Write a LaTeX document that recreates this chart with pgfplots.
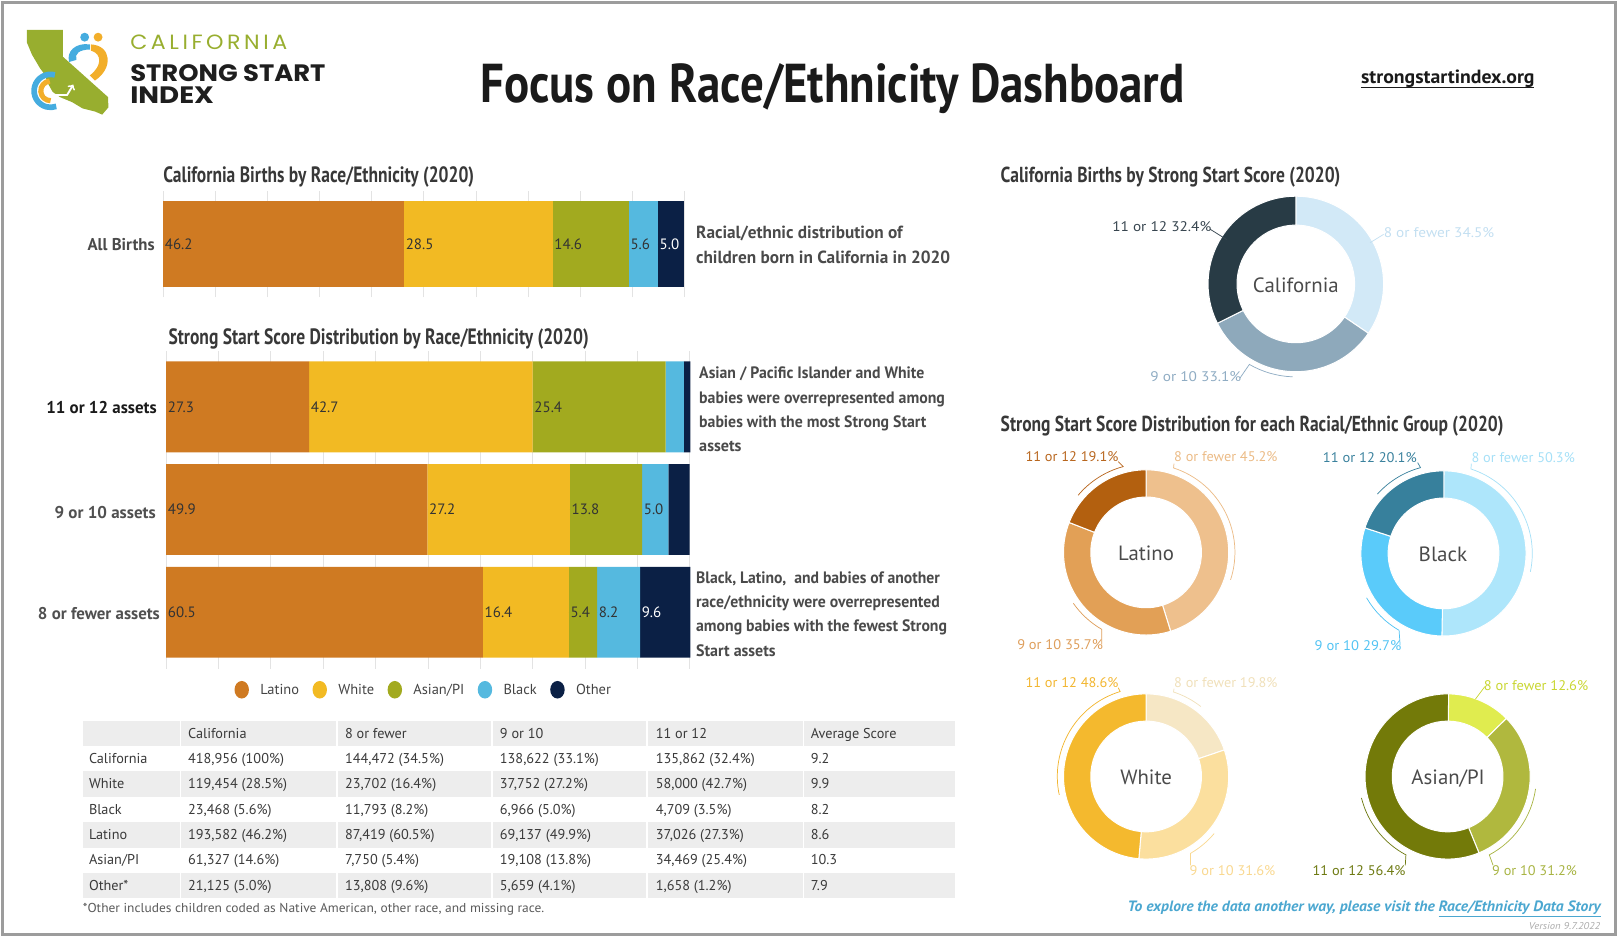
\documentclass[border=0pt]{standalone}
\usepackage{pgfplots}
\pgfplotsset{compat=1.18}
\usepackage{graphicx}
\usepackage{fontspec}
\setmainfont{PT Sans}
\newfontfamily\logofont{Poppins}
\newfontfamily\logofontsp{Poppins}[LetterSpace=16]

\definecolor{cLat}{HTML}{CF7A22}
\definecolor{cWhi}{HTML}{F2BA23}
\definecolor{cAsi}{HTML}{A2AA1F}
\definecolor{cBla}{HTML}{55B9DF}
\definecolor{cOth}{HTML}{0B2045}
\definecolor{gridc}{HTML}{E3E3E3}
\definecolor{tgray}{HTML}{EDEDED}
\definecolor{hdr}{HTML}{383838}
\definecolor{ann}{HTML}{333333}
\definecolor{annb}{HTML}{4A4A4A}
\definecolor{rowg}{HTML}{505050}
\definecolor{titc}{HTML}{1A1A1A}
\definecolor{logoK}{HTML}{1E1E1E}
\definecolor{logoG}{HTML}{98AE2F}
\definecolor{logoB}{HTML}{45ACDF}
\definecolor{logoO}{HTML}{F2AE2A}
\definecolor{ttxt}{HTML}{3A3A3A}
\definecolor{fnc}{HTML}{5A5A5A}
\definecolor{legtxt}{HTML}{444444}
\definecolor{ctr}{HTML}{4A4A4A}
\definecolor{foot}{HTML}{4BA7D0}
\definecolor{vers}{HTML}{AAAAAA}
\definecolor{framec}{HTML}{9C9C9C}
\definecolor{caA}{HTML}{D2E9F7}\definecolor{caB}{HTML}{8EA9BB}\definecolor{caC}{HTML}{283B45}
\definecolor{caLA}{HTML}{C3DFF1}\definecolor{caLB}{HTML}{8FACC3}\definecolor{caLC}{HTML}{37454F}
\definecolor{laA}{HTML}{EEC08D}\definecolor{laB}{HTML}{E2A056}\definecolor{laC}{HTML}{B3600F}
\definecolor{laLA}{HTML}{EBBB86}\definecolor{laLB}{HTML}{DE9E5B}\definecolor{laLC}{HTML}{B8661E}
\definecolor{blA}{HTML}{AEE6FB}\definecolor{blB}{HTML}{5ACBFA}\definecolor{blC}{HTML}{37809C}
\definecolor{blLA}{HTML}{A6E0F7}\definecolor{blLB}{HTML}{52C3F3}\definecolor{blLC}{HTML}{3A819D}
\definecolor{whA}{HTML}{F6E7C5}\definecolor{whB}{HTML}{FBDF9E}\definecolor{whC}{HTML}{F4B92E}
\definecolor{whLA}{HTML}{F0E0BA}\definecolor{whLB}{HTML}{F9D890}\definecolor{whLC}{HTML}{F2B631}
\definecolor{asA}{HTML}{E0EC4F}\definecolor{asB}{HTML}{B0B83E}\definecolor{asC}{HTML}{737A09}
\definecolor{asLA}{HTML}{C9D632}\definecolor{asLB}{HTML}{A8B443}\definecolor{asLC}{HTML}{6E7A12}

\newcommand\fit[3]{\resizebox{#1pt}{\height}{\fontsize{#2}{#2}\selectfont #3}}
\newcommand\tx[6]{\node[anchor=#1,inner sep=0pt,text=#2] at (#3) {\fit{#4}{#5}{#6}};}
\newcommand\lead[7]{\draw[#1, line width=0.7pt] (#7) -- ([shift={(#2,#3)}]#5:#4pt) arc[start angle=#5, end angle=#6, radius=#4pt];}
\tikzset{tcell/.style={anchor=base west, inner sep=0pt, text=ttxt, font=\fontsize{13.8}{13.8}\selectfont}}
\newcommand\trow[7]{%
 \node[tcell] at (86,#1) {#2};
 \node[tcell] at (182,#1) {#3};
 \node[tcell] at (334,#1) {#4};
 \node[tcell] at (484,#1) {#5};
 \node[tcell] at (635,#1) {#6};
 \node[tcell] at (785,#1) {#7};}

\pgfplotsset{
  dotlegend/.style={legend image code/.code={\fill[##1] (0pt,0pt) ellipse[x radius=7pt, y radius=8.5pt];}},
  barbase/.style={scale only axis, xmin=0, xmax=100, xbar stacked, xtick={0,10,...,100}, xticklabels={}, ytick=\empty,
    xmajorgrids, major grid style={draw=gridc, line width=0.9pt}, axis line style={draw=none}, major tick length=0pt, clip=false},
  lblbase/.style={scale only axis, xmin=0, xmax=100, hide axis, clip=false},
  lbl/.style={only marks, mark=*, mark size=0pt, mark options={draw=none,fill=none}, nodes near coords, point meta=explicit symbolic,
    every node near coord/.append style={anchor=west, inner sep=1.5pt, font=\fontsize{14.5}{14.5}\selectfont, text=#1}},
}

% cx cy R v1 v2 v3 c1 c2 c3
\newcommand\donut[9]{%
  \pgfmathsetmacro\dA{90}%
  \pgfmathsetmacro\dB{90-3.6*#4}%
  \pgfmathsetmacro\dC{\dB-3.6*#5}%
  \pgfmathsetmacro\dD{\dC-3.6*#6}%
  \pgfmathsetmacro\dR{#3}%
  \pgfmathsetmacro\dr{0.67*#3}%
  \pgfmathsetmacro\dW{2*#3}%
  \begin{axis}[at={(#1pt,-#2pt)}, anchor=center, scale only axis, width=\dW pt, height=\dW pt,
     xmin=-1, xmax=1, ymin=-1, ymax=1, hide axis, clip=false]
   \begin{scope}[shift={(axis cs:0,0)}]
    \draw[fill=#7, draw=white, line width=1pt] (\dA:\dR pt) arc[start angle=\dA, end angle=\dB, radius=\dR pt] -- (\dB:\dr pt) arc[start angle=\dB, end angle=\dA, radius=\dr pt] -- cycle;
    \draw[fill=#8, draw=white, line width=1pt] (\dB:\dR pt) arc[start angle=\dB, end angle=\dC, radius=\dR pt] -- (\dC:\dr pt) arc[start angle=\dC, end angle=\dB, radius=\dr pt] -- cycle;
    \draw[fill=#9, draw=white, line width=1pt] (\dC:\dR pt) arc[start angle=\dC, end angle=\dD, radius=\dR pt] -- (\dD:\dr pt) arc[start angle=\dD, end angle=\dC, radius=\dr pt] -- cycle;
   \end{scope}
  \end{axis}}

\begin{document}
\begin{tikzpicture}
% ================= bar chart 1
\begin{axis}[barbase, at={(158pt,-185pt)}, anchor=north west, width=505pt, height=103pt, ymin=-0.5, ymax=0.5, bar width=83pt]
\addplot[fill=cLat, draw=none] coordinates {(46.2,0)};
\addplot[fill=cWhi, draw=none] coordinates {(28.5,0)};
\addplot[fill=cAsi, draw=none] coordinates {(14.6,0)};
\addplot[fill=cBla, draw=none] coordinates {(5.6,0)};
\addplot[fill=cOth, draw=none] coordinates {(5.0,0)};
\end{axis}
\begin{axis}[lblbase, at={(158pt,-185pt)}, anchor=north west, width=505pt, height=103pt, ymin=-0.5, ymax=0.5]
\addplot[lbl=ann] table[meta=lab] {
x y lab
0 0 46.2
46.2 0 28.5
74.7 0 14.6
89.3 0 5.6
};
\addplot[lbl=white] table[meta=lab] {
x y lab
94.9 0 5.0
};
\end{axis}
% ================= bar chart 2
\begin{axis}[barbase, at={(161pt,-340pt)}, anchor=north west, width=507pt, height=308pt, ymin=-0.553, ymax=2.543, bar width=88pt,
  every axis plot post/.append style={dotlegend},
  legend columns=5, legend cell align=left,
  legend style={at={(0.490,-0.065)}, anchor=center, draw=none, fill=none, inner sep=0pt,
    nodes={inner sep=0pt, text=legtxt, font=\fontsize{14}{14}\selectfont},
    /tikz/every odd column/.append style={column sep=11pt},
    /tikz/every even column/.append style={column sep=13pt}}]
\addplot[fill=cLat, draw=none] coordinates {(60.5,0) (49.9,1) (27.3,2)};
\addplot[fill=cWhi, draw=none] coordinates {(16.4,0) (27.2,1) (42.7,2)};
\addplot[fill=cAsi, draw=none] coordinates {(5.4,0) (13.8,1) (25.4,2)};
\addplot[fill=cBla, draw=none] coordinates {(8.2,0) (5.0,1) (3.5,2)};
\addplot[fill=cOth, draw=none] coordinates {(9.6,0) (4.1,1) (1.2,2)};
\legend{Latino,White,Asian/PI,Black,Other}
\end{axis}
\begin{axis}[lblbase, at={(161pt,-340pt)}, anchor=north west, width=507pt, height=308pt, ymin=-0.553, ymax=2.543]
\addplot[lbl=ann] table[meta=lab] {
x y lab
0 2 27.3
27.3 2 42.7
70.0 2 25.4
0 1 49.9
49.9 1 27.2
77.1 1 13.8
90.9 1 5.0
0 0 60.5
60.5 0 16.4
76.9 0 5.4
82.3 0 8.2
};
\addplot[lbl=white] table[meta=lab] {
x y lab
90.5 0 9.6
};
\end{axis}
% ================= donuts
\donut{1255}{275}{85}{34.5}{33.1}{32.4}{caA}{caB}{caC}
\donut{1110}{535}{80}{45.2}{35.7}{19.1}{laA}{laB}{laC}
\donut{1398}{536}{80}{50.3}{29.7}{20.1}{blA}{blB}{blC}
\donut{1110}{752}{80}{19.8}{31.6}{48.6}{whA}{whB}{whC}
\donut{1402}{752}{80}{12.6}{31.2}{56.4}{asA}{asB}{asC}

\begin{scope}[x=1pt,y=-1pt]
% frame
\draw[framec, line width=3pt] (2,2.5) rectangle (1564.5,905);
% logo
\fill[logoG] (26,29) -- (61,29) -- (61,55) -- (104.6,94) -- (105,104) -- (99,111) -- (92,108) -- (80,105) -- (70,99) -- (58,94) -- (51,89) -- (46,80) -- (43.6,72.6) -- (38.7,66) -- (31,53) -- (26,41) -- cycle;
\draw[logoB, line width=5.5pt] ([shift={(49,88)}]75:16pt) arc[start angle=75, end angle=290, radius=16pt];
\draw[logoO, line width=5pt] ([shift={(49,88)}]95:9.5pt) arc[start angle=95, end angle=270, radius=9.5pt];
\draw[white, line width=1.8pt, ->] (44,92) -- (65,92) -- (71,82);
\fill[logoB] (82,36) circle[radius=4.3pt];
\fill[logoO] (95,36) circle[radius=4.3pt];
\fill[logoB] (87,43) .. controls (73,41) and (64,50) .. (67,60) -- (74,58) .. controls (72,52) and (77,48) .. (87,48) -- cycle;
\fill[logoO] (88,43) .. controls (108,44) and (110,66) .. (92,78) -- (87,73) .. controls (99,64) and (99,52) .. (88,49) -- cycle;
\tx{base west}{logoG}{126,48}{152}{20}{\logofontsp CALIFORNIA}
\tx{base west}{logoK}{126,79}{189}{23}{\logofont\bfseries STRONG START}
\tx{base west}{logoK}{126,100.5}{81}{23}{\logofont\bfseries INDEX}
% title
\tx{base west}{titc}{465,99.5}{682}{53}{\bfseries Focus on Race/Ethnicity Dashboard}
\tx{base west}{titc}{1318,80.5}{168}{18.5}{\bfseries strongstartindex.org}
\draw[titc, line width=1.2pt] (1318,84.5) -- (1486,84.5);
% left texts
\tx{base west}{hdr}{158,177}{301}{21.5}{\bfseries California Births by Race/Ethnicity (2020)}
\tx{base east}{annb}{150,243}{65}{16.5}{\bfseries All Births}
\tx{base west}{annb}{674,231}{200}{17}{\bfseries Racial/ethnic distribution of}
\tx{base west}{annb}{674,255.5}{246}{17}{\bfseries children born in California in 2020}
\tx{base west}{hdr}{163,333.5}{407}{21.5}{\bfseries Strong Start Score Distribution by Race/Ethnicity (2020)}
\tx{base east}{titc}{152,400}{107}{16.5}{\bfseries 11 or 12 assets}
\tx{base east}{rowg}{151,502}{98}{16.5}{\bfseries 9 or 10 assets}
\tx{base east}{rowg}{155,599.5}{118}{16.5}{\bfseries 8 or fewer assets}
\tx{base west}{annb}{677,367}{218}{16}{\bfseries Asian / Pacific Islander and White}
\tx{base west}{annb}{677,390.5}{238}{16}{\bfseries babies were overrepresented among}
\tx{base west}{annb}{677,414}{220}{16}{\bfseries babies with the most Strong Start}
\tx{base west}{annb}{677,437.5}{41}{16}{\bfseries assets}
\tx{base west}{annb}{674,565}{236}{16}{\bfseries Black, Latino,~ and babies of another}
\tx{base west}{annb}{674,588.5}{236}{16}{\bfseries race/ethnicity were overrepresented}
\tx{base west}{annb}{674,612}{243}{16}{\bfseries among babies with the fewest Strong}
\tx{base west}{annb}{674,635.5}{77}{16}{\bfseries Start assets}
% table
\fill[tgray] (80,698) rectangle (925,722.57);
\fill[tgray] (80,747.14) rectangle (925,771.71);
\fill[tgray] (80,796.29) rectangle (925,820.86);
\fill[tgray] (80,845.43) rectangle (925,870);
\foreach \xx in {175,326.5,476.5,626.5,778} {\draw[white, line width=1.5pt] (\xx,698) -- (\xx,870);}
\trow{714.8}{}{California}{8 or fewer}{9 or 10}{11 or 12}{Average Score}
\trow{739.4}{California}{418,956 (100\%)}{144,472 (34.5\%)}{138,622 (33.1\%)}{135,862 (32.4\%)}{9.2}
\trow{764.0}{White}{119,454 (28.5\%)}{23,702 (16.4\%)}{37,752 (27.2\%)}{58,000 (42.7\%)}{9.9}
\trow{788.5}{Black}{23,468 (5.6\%)}{11,793 (8.2\%)}{6,966 (5.0\%)}{4,709 (3.5\%)}{8.2}
\trow{813.1}{Latino}{193,582 (46.2\%)}{87,419 (60.5\%)}{69,137 (49.9\%)}{37,026 (27.3\%)}{8.6}
\trow{837.7}{Asian/PI}{61,327 (14.6\%)}{7,750 (5.4\%)}{19,108 (13.8\%)}{34,469 (25.4\%)}{10.3}
\trow{862.2}{Other*}{21,125 (5.0\%)}{13,808 (9.6\%)}{5,659 (4.1\%)}{1,658 (1.2\%)}{7.9}
\tx{base west}{fnc}{80,884}{447}{12.5}{*Other includes children coded as Native American, other race, and missing race.}
% right titles
\tx{base west}{hdr}{969,177}{329}{21}{\bfseries California Births by Strong Start Score (2020)}
\tx{base west}{hdr}{969,417.5}{487}{21}{\bfseries Strong Start Score Distribution for each Racial/Ethnic Group (2020)}
% donut centre labels
\tx{base}{ctr}{1255,283}{83}{20}{California}
\tx{base}{ctr}{1110,543}{54}{20}{Latino}
\tx{base}{ctr}{1397.5,544}{47}{20}{Black}
\tx{base}{ctr}{1110,760}{50}{20}{White}
\tx{base}{ctr}{1402.5,760}{71}{20}{Asian/PI}
% donut labels
\tx{base west}{caLC}{1077,224}{96}{13.5}{11 or 12 32.4\%}
\tx{base west}{caLA}{1340,230}{107}{13.5}{8 or fewer 34.5\%}
\tx{base west}{caLB}{1114,369}{88}{13.5}{9 or 10 33.1\%}
\tx{base west}{laLC}{993,447}{90}{13.5}{11 or 12 19.1\%}
\tx{base west}{laLA}{1137,447}{100}{13.5}{8 or fewer 45.2\%}
\tx{base west}{laLB}{985,629}{83}{13.5}{9 or 10 35.7\%}
\tx{base west}{blLC}{1281,448}{91}{13.5}{11 or 12 20.1\%}
\tx{base west}{blLA}{1425,448}{100}{13.5}{8 or fewer 50.3\%}
\tx{base west}{blLB}{1273,630}{84}{13.5}{9 or 10 29.7\%}
\tx{base west}{whLC}{993,666}{90}{13.5}{11 or 12 48.6\%}
\tx{base west}{whLA}{1137,666}{100}{13.5}{8 or fewer 19.8\%}
\tx{base west}{whLB}{1152,848}{83}{13.5}{9 or 10 31.6\%}
\tx{base west}{asLA}{1437,669}{101}{13.5}{8 or fewer 12.6\%}
\tx{base west}{asLB}{1445,848}{82}{13.5}{9 or 10 31.2\%}
\tx{base west}{asLC}{1271,848}{90}{13.5}{11 or 12 56.4\%}
% leaders
\draw[caLC, line width=0.7pt] (1172,222) -- (1188,232);
\draw[caLA, line width=0.7pt] (1340,227) -- (1327,235);
\lead{caLB}{1255}{275}{90}{240}{268}{1201,366}
\lead{laLC}{1110}{535}{86}{105}{140}{1083,447}
\lead{laLA}{1110}{535}{86}{72}{-18}{1137,449}
\lead{laLB}{1110}{535}{86}{240}{215}{1067,624}
\lead{blLC}{1398}{536}{86}{105}{138}{1373,448}
\lead{blLA}{1398}{536}{86}{72}{-12}{1425,449}
\lead{blLB}{1398}{536}{86}{240}{210}{1356,625}
\lead{whLC}{1110}{752}{86}{107}{192}{1083,666}
\lead{whLA}{1110}{752}{86}{72}{52}{1137,667}
\lead{whLB}{1110}{752}{86}{-60}{-40}{1153,838}
\draw[asLA, line width=0.7pt] (1438,665) -- (1429,677);
\lead{asLB}{1402}{752}{86}{-62}{-8}{1446,838}
\lead{asLC}{1402}{752}{86}{242}{194}{1361,838}
% footer
\tx{base west}{foot}{1092,883}{458}{14.5}{\bfseries\itshape To explore the data another way, please visit the \underline{Race/Ethnicity Data Story}}
\tx{base east}{vers}{1550,900}{69}{9.5}{\itshape Version 9.7.2022}
\end{scope}
\pgfresetboundingbox
\path (0pt,0pt) rectangle (1568pt,-907pt);
\end{tikzpicture}
\end{document}
